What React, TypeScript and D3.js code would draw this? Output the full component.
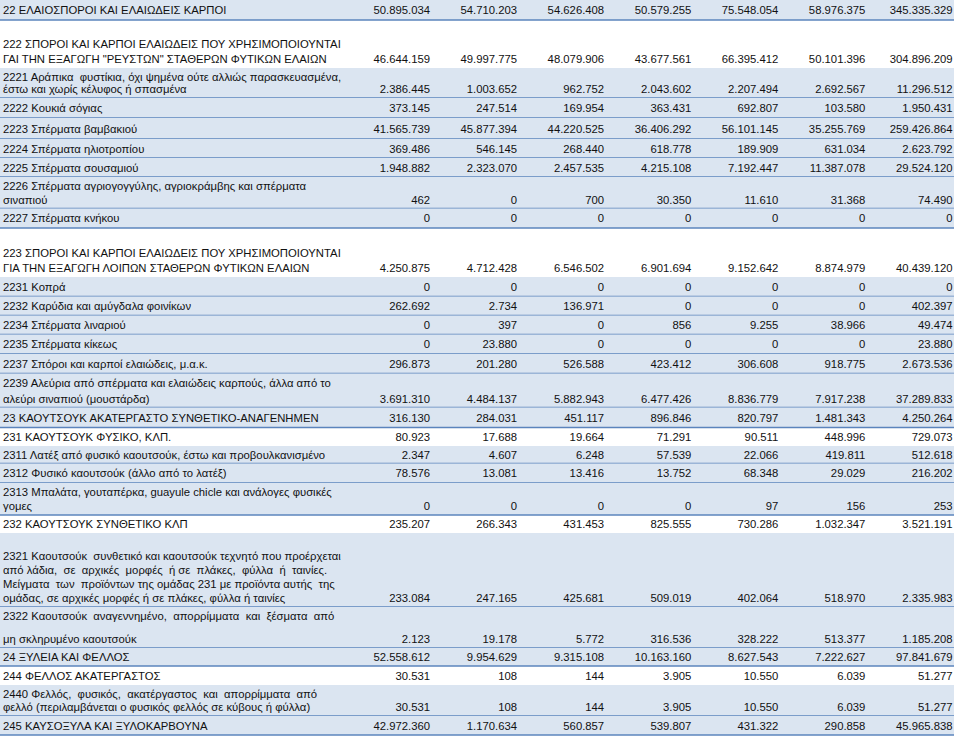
import * as d3 from "d3"

// row labels (each entry = lines of the label, "" = empty line above)
const labels: string[][] = [
  ["22 ΕΛΑΙΟΣΠΟΡΟΙ ΚΑΙ ΕΛΑΙΩΔΕΙΣ ΚΑΡΠΟΙ"],
  ["", "222 ΣΠΟΡΟΙ ΚΑΙ ΚΑΡΠΟΙ ΕΛΑΙΩΔΕΙΣ ΠΟΥ ΧΡΗΣΙΜΟΠΟΙΟΥΝΤΑΙ", "ΓΑΙ ΤΗΝ ΕΞΑΓΩΓΗ \"ΡΕΥΣΤΩΝ\" ΣΤΑΘΕΡΩΝ ΦΥΤΙΚΩΝ ΕΛΑΙΩΝ"],
  ["2221 Αράπικα  φυστίκια, όχι ψημένα ούτε αλλιώς παρασκευασμένα,", "έστω και χωρίς κέλυφος ή σπασμένα"],
  ["2222 Κουκιά σόγιας"],
  ["2223 Σπέρματα βαμβακιού"],
  ["2224 Σπέρματα ηλιοτροπίου"],
  ["2225 Σπέρματα σουσαμιού"],
  ["2226 Σπέρματα αγριογογγύλης, αγριοκράμβης και σπέρματα", "σιναπιού"],
  ["2227 Σπέρματα κνήκου"],
  ["", "223 ΣΠΟΡΟΙ ΚΑΙ ΚΑΡΠΟΙ ΕΛΑΙΩΔΕΙΣ ΠΟΥ ΧΡΗΣΙΜΟΠΟΙΟΥΝΤΑΙ", "ΓΙΑ ΤΗΝ ΕΞΑΓΩΓΗ ΛΟΙΠΩΝ ΣΤΑΘΕΡΩΝ ΦΥΤΙΚΩΝ ΕΛΑΙΩΝ"],
  ["2231 Κοπρά"],
  ["2232 Καρύδια και αμύγδαλα φοινίκων"],
  ["2234 Σπέρματα λιναριού"],
  ["2235 Σπέρματα κίκεως"],
  ["2237 Σπόροι και καρποί ελαιώδεις, μ.α.κ."],
  ["2239 Αλεύρια από σπέρματα και ελαιώδεις καρπούς, άλλα από το", "αλεύρι σιναπιού (μουστάρδα)"],
  ["23 ΚΑΟΥΤΣΟΥΚ ΑΚΑΤΕΡΓΑΣΤΟ ΣΥΝΘΕΤΙΚΟ-ΑΝΑΓΕΝΗΜΕΝ"],
  ["231 ΚΑΟΥΤΣΟΥΚ ΦΥΣΙΚΟ, ΚΛΠ."],
  ["2311 Λατέξ από φυσικό καουτσούκ, έστω και προβουλκανισμένο"],
  ["2312 Φυσικό καουτσούκ (άλλο από το λατέξ)"],
  ["2313 Μπαλάτα, γουταπέρκα, guayule chicle και ανάλογες φυσικές", "γομες"],
  ["232 ΚΑΟΥΤΣΟΥΚ ΣΥΝΘΕΤΙΚΟ ΚΛΠ"],
  ["", "2321 Καουτσούκ  συνθετικό και καουτσούκ τεχνητό που προέρχεται", "από λάδια,  σε  αρχικές  μορφές  ή σε  πλάκες,  φύλλα  ή  ταινίες.", "Μείγματα  των  προϊόντων της ομάδας 231 με προϊόντα αυτής  της", "ομάδας, σε αρχικές μορφές ή σε πλάκες, φύλλα ή ταινίες"],
  ["2322 Καουτσούκ  αναγεννημένο,  απορρίμματα  και  ξέσματα  από", "μη σκληρυμένο καουτσούκ"],
  ["24 ΞΥΛΕΙΑ ΚΑΙ ΦΕΛΛΟΣ"],
  ["244 ΦΕΛΛΟΣ ΑΚΑΤΕΡΓΑΣΤΟΣ"],
  ["2440 Φελλός,  φυσικός,  ακατέργαστος  και  απορρίμματα  από", "φελλό (περιλαμβάνεται ο φυσικός φελλός σε κύβους ή φύλλα)"],
  ["245 ΚΑΥΣΟΞΥΛΑ ΚΑΙ ΞΥΛΟΚΑΡΒΟΥΝΑ"],
]

// values, 7 columns per row (last = total)
const values: number[][] = [
  [50895034, 54710203, 54626408, 50579255, 75548054, 58976375, 345335329],
  [46644159, 49997775, 48079906, 43677561, 66395412, 50101396, 304896209],
  [2386445, 1003652, 962752, 2043602, 2207494, 2692567, 11296512],
  [373145, 247514, 169954, 363431, 692807, 103580, 1950431],
  [41565739, 45877394, 44220525, 36406292, 56101145, 35255769, 259426864],
  [369486, 546145, 268440, 618778, 189909, 631034, 2623792],
  [1948882, 2323070, 2457535, 4215108, 7192447, 11387078, 29524120],
  [462, 0, 700, 30350, 11610, 31368, 74490],
  [0, 0, 0, 0, 0, 0, 0],
  [4250875, 4712428, 6546502, 6901694, 9152642, 8874979, 40439120],
  [0, 0, 0, 0, 0, 0, 0],
  [262692, 2734, 136971, 0, 0, 0, 402397],
  [0, 397, 0, 856, 9255, 38966, 49474],
  [0, 23880, 0, 0, 0, 0, 23880],
  [296873, 201280, 526588, 423412, 306608, 918775, 2673536],
  [3691310, 4484137, 5882943, 6477426, 8836779, 7917238, 37289833],
  [316130, 284031, 451117, 896846, 820797, 1481343, 4250264],
  [80923, 17688, 19664, 71291, 90511, 448996, 729073],
  [2347, 4607, 6248, 57539, 22066, 419811, 512618],
  [78576, 13081, 13416, 13752, 68348, 29029, 216202],
  [0, 0, 0, 0, 97, 156, 253],
  [235207, 266343, 431453, 825555, 730286, 1032347, 3521191],
  [233084, 247165, 425681, 509019, 402064, 518970, 2335983],
  [2123, 19178, 5772, 316536, 328222, 513377, 1185208],
  [52558612, 9954629, 9315108, 10163160, 8627543, 7222627, 97841679],
  [30531, 108, 144, 3905, 10550, 6039, 51277],
  [30531, 108, 144, 3905, 10550, 6039, 51277],
  [42972360, 1170634, 560857, 539807, 431322, 290858, 45965838],
]

// rows drawn on white (others shaded)
const plainRows = [1, 9, 17, 21, 25]

// layout
const rowHeights = [20, 48, 30, 20, 21, 19, 19, 31.5, 19.5, 49, 19.5, 19, 19, 19.5, 19.5, 34, 20, 18.5, 17.5, 19.5, 32, 18, 74, 41, 18, 19, 31, 19]
const width = 960
const height = 738
const font = "'Liberation Sans', Arial, sans-serif"
const fontSize = 11.3

const fmt = d3.formatLocale({ decimal: ",", thousands: ".", grouping: [3], currency: ["", "€"] }).format(",d")

export default function App() {
  const tops = [0, ...d3.cumsum(rowHeights)]
  const x = d3.scaleLinear().domain([0, 6]).range([430, 952.5])

  const lineCenters = (i: number) => {
    const n = labels[i].length
    const top = tops[i]
    const h = rowHeights[i]
    if (n === 1) return [top + h / 2]
    const y = d3.scaleLinear().domain([0, n - 1]).range([top + 9, top + h - 9])
    return d3.range(n).map((k) => y(k))
  }

  return (
    <div style={{ position: "absolute", left: 0, top: 0 }}>
      <svg width={width} height={height} style={{ display: "block", background: "#fff" }}>
        {labels.map((lines, i) => {
          const shaded = !plainRows.includes(i)
          const top = tops[i]
          const h = rowHeights[i]
          const ys = lineCenters(i)
          const last = ys[ys.length - 1]
          return (
            <g key={i}>
              {shaded && <rect x={0} y={top} width={954} height={h} fill="#dbe5f1" />}
              {shaded && <line x1={0} x2={954} y1={top + h} y2={top + h} stroke="#5b84bd" strokeWidth={1.4} />}
              {lines.map((t, k) =>
                t ? (
                  <text key={k} x={3} y={ys[k] + 4} fontFamily={font} fontSize={fontSize} fill="#111" style={{ whiteSpace: "pre" }}>
                    {t}
                  </text>
                ) : null
              )}
              {values[i].map((v, c) => (
                <text key={"v" + c} x={x(c)} y={last + 4} textAnchor="end" fontFamily={font} fontSize={fontSize} fill="#111">
                  {fmt(v)}
                </text>
              ))}
            </g>
          )
        })}
      </svg>
    </div>
  )
}
